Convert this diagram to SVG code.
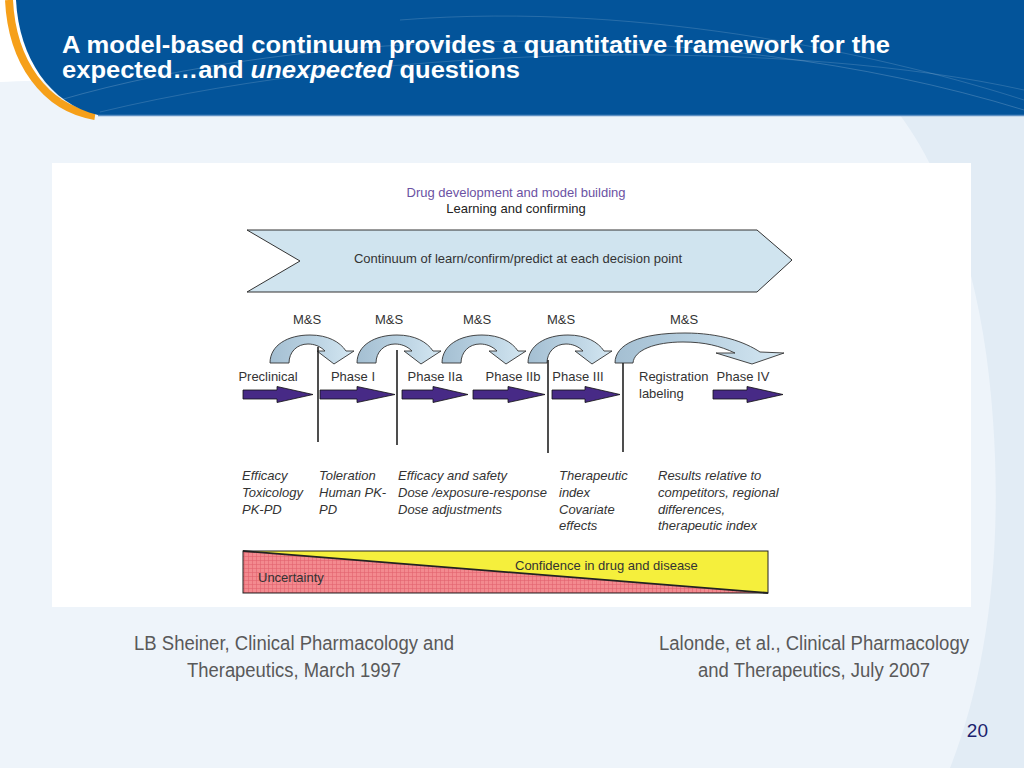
<svg xmlns="http://www.w3.org/2000/svg" width="1024" height="768" viewBox="0 0 1024 768">
<defs>
<style>
.t{font-family:"Liberation Sans",Arial,sans-serif;fill:#333}
.lab{font-size:13px}
.it{font-size:13px;font-style:italic;fill:#333}
.cite{font-family:"Liberation Sans Narrow","Liberation Sans",Arial,sans-serif;font-size:20px;fill:#595959}
.arc{fill:url(#arcg);stroke:#333;stroke-width:0.9}
.vl{stroke:#222;stroke-width:1.6}
.pa{fill:#472a86;stroke:#111;stroke-width:0.8}
.ttl{font-family:"Liberation Sans",Arial,sans-serif;font-size:23px;font-weight:bold;fill:#ffffff}
</style>
<linearGradient id="arcg" x1="0" y1="0" x2="1" y2="0">
<stop offset="0" stop-color="#a4bfd2"/>
<stop offset="0.5" stop-color="#b9d1e1"/>
<stop offset="1" stop-color="#d4e7f2"/>
</linearGradient>
<pattern id="grid" width="4" height="4" patternUnits="userSpaceOnUse">
<rect width="4" height="4" fill="#f38a8f"/>
<path d="M0,0.5H4M0.5,0V4" stroke="#e2636f" stroke-width="0.6"/>
</pattern>
<path id="arcShape" d="M0,363 C0,345 18,335 40,335 C58,335 70,342 76,351 L84,351 L64,364 L47,351 L55,351 C50,346 44,344 38,344 C27,344 19,352 19,363 Z"/>
</defs>

<!-- background -->
<g id="background">
<rect width="1024" height="768" fill="#eef4fa"/>
<path d="M0,0 H200 V78 C120,78 40,80 0,82 Z" fill="#ffffff"/>
<path d="M900,115 C955,190 985,300 993,420 C1003,560 985,680 950,768 H1024 V115 Z" fill="#e2ecf5"/>
</g>

<!-- header -->
<g id="header">
<path d="M9,0 C12,62 45,108 95,116" fill="none" stroke="#f6a01a" stroke-width="8"/>
<path d="M16,0 H1024 V115 H98 C50,104 19,58 16,0 Z" fill="#03549a"/>
<path d="M60,100 C300,30 700,10 1024,110" fill="none" stroke="#ffffff" stroke-width="1" opacity="0.18"/>
<path d="M100,112 C400,40 800,40 1024,90" fill="none" stroke="#ffffff" stroke-width="1" opacity="0.15"/>
<path d="M400,20 C650,0 900,60 1024,100" fill="none" stroke="#ffffff" stroke-width="1" opacity="0.15"/>
<line x1="98" y1="115.5" x2="1024" y2="115.5" stroke="#5d8fc2" stroke-width="1.5"/>
<text class="ttl" x="62" y="53" textLength="828" lengthAdjust="spacingAndGlyphs">A model-based continuum provides a quantitative framework for the</text>
<text class="ttl" x="62" y="78" textLength="458" lengthAdjust="spacingAndGlyphs">expected…and <tspan font-style="italic">unexpected</tspan> questions</text>
</g>

<!-- figure panel -->
<g id="figure">
<rect x="52" y="163" width="919" height="444" fill="#ffffff"/>
<text class="t lab" x="516" y="197" text-anchor="middle" style="fill:#6b52a3">Drug development and model building</text>
<text class="t lab" x="516" y="213" text-anchor="middle" style="fill:#222">Learning and confirming</text>
</g>

<g id="chevron">
<polygon points="247,230 757,230 792,260 757,292 247,292 300,261" fill="#d0e4ef" stroke="#333" stroke-width="1"/>
<text class="t lab" x="518" y="263" text-anchor="middle">Continuum of learn/confirm/predict at each decision point</text>
</g>

<g id="ms-labels">
<text class="t lab" x="307" y="324" text-anchor="middle">M&amp;S</text>
<text class="t lab" x="389" y="324" text-anchor="middle">M&amp;S</text>
<text class="t lab" x="477" y="324" text-anchor="middle">M&amp;S</text>
<text class="t lab" x="561" y="324" text-anchor="middle">M&amp;S</text>
<text class="t lab" x="684" y="324" text-anchor="middle">M&amp;S</text>
</g>

<g id="connectors">
<use href="#arcShape" class="arc" transform="translate(270,0)"/>
<use href="#arcShape" class="arc" transform="translate(357,0)"/>
<use href="#arcShape" class="arc" transform="translate(442,0)"/>
<use href="#arcShape" class="arc" transform="translate(528,0)"/>
<path class="arc" d="M615,363 C615,344 640,333 685,333 C720,333 745,342 760,352 L784,353 L752,364 L716,353 L735,353 C720,346 705,342 683,342 C655,342 634,350 633,363 Z"/>
<line class="vl" x1="318" y1="347" x2="318" y2="442"/>
<line class="vl" x1="397" y1="350" x2="397" y2="445"/>
<line class="vl" x1="548" y1="360" x2="548" y2="453"/>
<line class="vl" x1="623" y1="363" x2="623" y2="452"/>
<path class="pa" d="M243,390 H277 V386.5 L313,394.5 L277,402.5 V399 H243 Z"/>
<path class="pa" d="M320,390 H357 V386.5 L395,394.5 L357,402.5 V399 H320 Z"/>
<path class="pa" d="M402,390 H433 V386.5 L468,394.5 L433,402.5 V399 H402 Z"/>
<path class="pa" d="M473,390 H508 V386.5 L545,394.5 L508,402.5 V399 H473 Z"/>
<path class="pa" d="M552,390 H585 V386.5 L620,394.5 L585,402.5 V399 H552 Z"/>
<path class="pa" d="M713,390 H747 V386.5 L783,394.5 L747,402.5 V399 H713 Z"/>
</g>

<g id="phases">
<text class="t lab" x="268" y="381" text-anchor="middle">Preclinical</text>
<text class="t lab" x="353" y="381" text-anchor="middle">Phase I</text>
<text class="t lab" x="435" y="381" text-anchor="middle">Phase IIa</text>
<text class="t lab" x="513" y="381" text-anchor="middle">Phase IIb</text>
<text class="t lab" x="578" y="381" text-anchor="middle">Phase III</text>
<text class="t lab" x="639" y="381">Registration</text>
<text class="t lab" x="639" y="398">labeling</text>
<text class="t lab" x="743" y="381" text-anchor="middle">Phase IV</text>
</g>

<g id="details" font-family="Liberation Sans,Arial,sans-serif">
<text class="it" x="242" y="480">Efficacy</text>
<text class="it" x="242" y="497">Toxicology</text>
<text class="it" x="242" y="514">PK-PD</text>
<text class="it" x="319" y="480">Toleration</text>
<text class="it" x="319" y="497">Human PK-</text>
<text class="it" x="319" y="514">PD</text>
<text class="it" x="398" y="480">Efficacy and safety</text>
<text class="it" x="398" y="497">Dose /exposure-response</text>
<text class="it" x="398" y="514">Dose adjustments</text>
<text class="it" x="559" y="480">Therapeutic</text>
<text class="it" x="559" y="497">index</text>
<text class="it" x="559" y="514">Covariate</text>
<text class="it" x="559" y="530">effects</text>
<text class="it" x="658" y="480">Results relative to</text>
<text class="it" x="658" y="497">competitors, regional</text>
<text class="it" x="658" y="514">differences,</text>
<text class="it" x="658" y="530">therapeutic index</text>
</g>

<g id="confidence-bar">
<rect x="243" y="551" width="525" height="42" fill="#f5ef3c"/>
<polygon points="243,551 768,593 243,593" fill="url(#grid)"/>
<line x1="243" y1="551" x2="768" y2="593" stroke="#222" stroke-width="1.8"/>
<rect x="243" y="551" width="525" height="42" fill="none" stroke="#222" stroke-width="1"/>
<text class="t lab" x="515" y="570">Confidence in drug and disease</text>
<text class="t lab" x="258" y="582">Uncertainty</text>
</g>

<g id="citations">
<text class="cite" x="294" y="650" text-anchor="middle" textLength="320" lengthAdjust="spacingAndGlyphs">LB Sheiner, Clinical Pharmacology and</text>
<text class="cite" x="294" y="677" text-anchor="middle" textLength="214" lengthAdjust="spacingAndGlyphs">Therapeutics, March 1997</text>
<text class="cite" x="814" y="650" text-anchor="middle" textLength="310" lengthAdjust="spacingAndGlyphs">Lalonde, et al., Clinical Pharmacology</text>
<text class="cite" x="814" y="677" text-anchor="middle" textLength="232" lengthAdjust="spacingAndGlyphs">and Therapeutics, July 2007</text>
<text x="988" y="737" text-anchor="end" font-family="Liberation Sans Narrow,Liberation Sans,Arial,sans-serif" font-size="19" fill="#1b1f6e">20</text>
</g>
</svg>
